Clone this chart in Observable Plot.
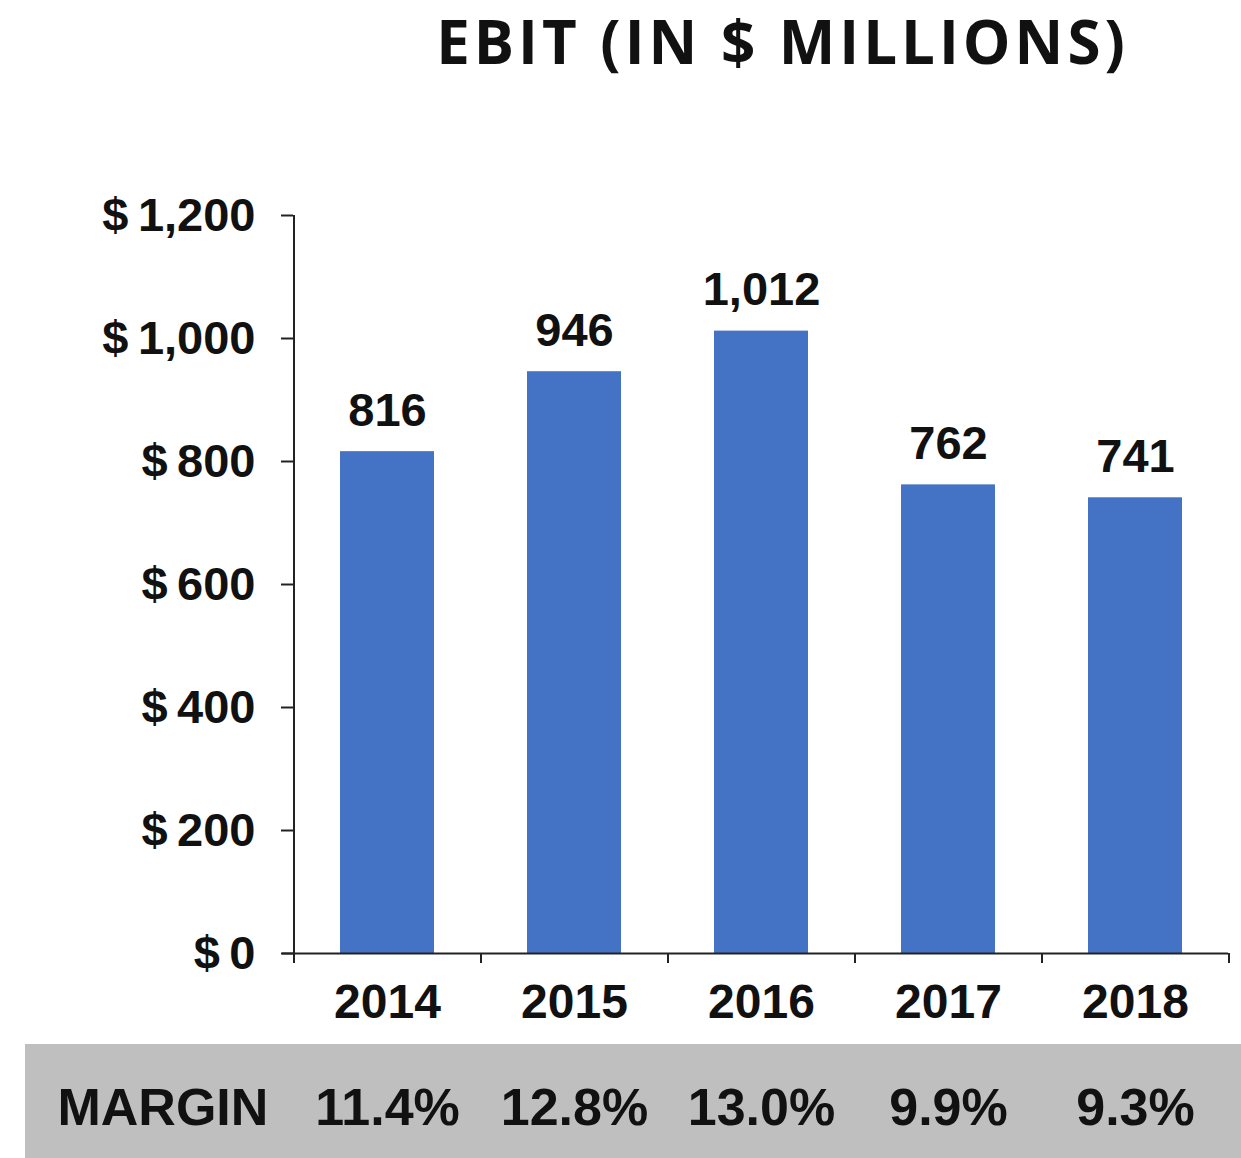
<!DOCTYPE html>
<html>
<head>
<meta charset="utf-8">
<script src="https://cdn.jsdelivr.net/npm/d3@7"></script>
<script src="https://cdn.jsdelivr.net/npm/@observablehq/plot@0.6"></script>
<style>
  html, body { margin: 0; padding: 0; background: #fff; }
  #wrap { width: 1241px; height: 1158px; position: relative; overflow: hidden; }
  #title { width: 1241px; height: 100px; box-sizing: border-box; padding-left: 324px; padding-top: 0;
    text-align: center; font-family: "Open Sans", sans-serif; font-weight: 700; font-size: 60px;
    line-height: normal; letter-spacing: 4px; color: #111; white-space: nowrap; }
  #main svg, #margin svg { display: block; }
  #margin { margin-left: 25px; width: 1216px; height: 114px; background: #BFBFBF; }
</style>
</head>
<body>
<div id="wrap">
  <div id="title">EBIT (IN $ MILLIONS)</div>
  <div id="main"></div>
  <div id="margin"></div>
</div>
<script>
const years = ["2014", "2015", "2016", "2017", "2018"];
const ebit = [816, 946, 1012, 762, 741];
const margins = ["11.4%", "12.8%", "13.0%", "9.9%", "9.3%"];
const yTicks = [0, 200, 400, 600, 800, 1000, 1200];
const rowLabel = "MARGIN";

const data = years.map((y, i) => ({year: y, value: ebit[i], margin: margins[i]}));

const W = 1241, ML = 293, MR = 13;
const step = (W - ML - MR) / years.length;
const half = step / 2;
const font = "'Liberation Sans', Arial, Helvetica, sans-serif";
const axisColor = "#222";

const xScale = {domain: years, paddingInner: 0.5, paddingOuter: 0.25};

const chart = Plot.plot({
  width: W,
  height: 944,
  marginLeft: ML,
  marginRight: MR,
  marginTop: 115,
  marginBottom: 91,
  style: {fontFamily: font, color: "#111", background: "#fff"},
  x: xScale,
  y: {domain: [0, 1200]},
  marks: [
    Plot.barY(data, {x: "year", y: "value", fill: "#4472C4"}),
    // y axis line extended slightly below baseline
    Plot.ruleX([years[0]], {x: d => d, y1: 1200, y2: 0, dx: -half, insetBottom: -10, stroke: axisColor, strokeWidth: 2}),
    // x axis line
    Plot.ruleY([0], {insetLeft: -11, stroke: axisColor, strokeWidth: 2}),
    // category boundary ticks
    Plot.ruleX(years, {x: d => d, y1: 0, y2: 0, dx: half, insetBottom: -10, stroke: axisColor, strokeWidth: 2}),
    Plot.axisY({
      ticks: yTicks,
      tickSize: 12,
      tickPadding: 26,
      tickFormat: d => "$\u2009" + d3.format(",")(d),
      fontSize: 47,
      fontWeight: "bold",
      stroke: axisColor,
      strokeWidth: 2,
      label: null
    }),
    Plot.axisX({
      tickSize: 0,
      tickPadding: 30,
      fontSize: 48,
      fontWeight: "bold",
      label: null
    }),
    Plot.text(data, {
      x: "year", y: "value",
      text: d => d3.format(",")(d.value),
      lineAnchor: "bottom",
      dy: -26,
      fontSize: 47,
      fontWeight: "bold",
      fill: "#111"
    })
  ]
});
document.getElementById("main").appendChild(chart);

const row = Plot.plot({
  width: W - 25,
  height: 114,
  marginLeft: ML - 25,
  marginRight: MR,
  marginTop: 13,
  marginBottom: 0,
  style: {fontFamily: font, color: "#111", background: "transparent"},
  x: {...xScale, axis: null},
  marks: [
    Plot.text(data, {
      x: "year",
      text: "margin",
      frameAnchor: "middle",
      fontSize: 52,
      fontWeight: "bold",
      fill: "#111"
    }),
    Plot.text([rowLabel], {
      text: d => d,
      frameAnchor: "left",
      textAnchor: "start",
      dx: -(ML - 57),
      fontSize: 52,
      fontWeight: "bold",
      fill: "#111"
    })
  ]
});
document.getElementById("margin").appendChild(row);
</script>
</body>
</html>
